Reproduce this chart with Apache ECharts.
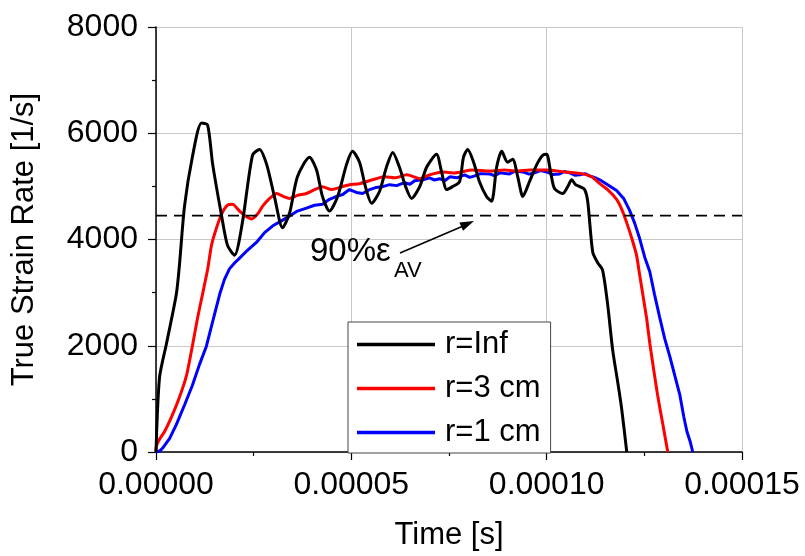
<!DOCTYPE html>
<html>
<head>
<meta charset="utf-8">
<script src="https://cdn.jsdelivr.net/npm/echarts@6/dist/echarts.min.js"></script>
<style>
html,body{margin:0;padding:0;background:#fff;}
#chart{width:805px;height:556px;}
</style>
</head>
<body>
<div id="chart"></div>
<script>
// time values in units of 1e-5 s
const timeInf = [0,0.09,0.27,0.52,0.60,0.73,0.93,1.165,1.32,1.45,1.68,1.83,2.01,2.21,2.47,2.65,2.83,3.03,3.24,3.42,3.62,3.93,4.11,4.26,4.44,4.65,4.88,5.03,5.21,5.36,5.52,5.72,5.90,6.06,6.23,6.39,6.54,6.75,6.93,7.18,7.31,7.44,7.59,7.77,7.87,7.98,8.13,8.28,8.46,8.59,8.72,8.85,9.00,9.13,9.26,9.39,9.56,9.74,9.90,10.0,10.1,10.2,10.41,10.54,10.64,10.74,10.85,10.97,11.05,11.18,11.31,11.43,11.56,11.69,11.82,11.92,12.05];
const rateInf = [0,1400,2046,2968,3520,4627,5548,6193,6157,5419,4442,3889,3705,4313,5585,5696,5419,4811,4221,4498,5180,5548,5309,4811,4535,4811,5419,5659,5456,4995,4682,4903,5364,5640,5364,4995,4774,4995,5364,5604,5272,4940,4995,5088,5548,5696,5456,5088,4811,4719,5364,5659,5456,5511,5180,4811,5088,5401,5585,5604,5272,4958,4866,4995,5124,5032,4995,4940,4719,3760,3558,3429,2783,1917,1309,811,0];

const time3 = [0,0.01,0.09,0.22,0.42,0.60,0.78,0.93,1.06,1.19,1.32,1.42,1.55,1.68,1.83,1.96,2.14,2.29,2.45,2.60,2.73,2.91,3.09,3.26,3.42,3.62,3.85,4.06,4.26,4.49,4.77,4.95,5.21,5.54,5.85,6.11,6.42,6.60,6.75,7.00,7.34,7.64,8.10,8.54,8.92,9.23,9.56,10.0,10.46,10.92,11.15,11.36,11.56,11.79,11.92,12.05,12.18,12.30,12.38,12.46,12.56,12.64,12.74,12.84,12.97,13.10];
const rate3 = [0,110,240,387,700,1032,1438,1991,2507,2968,3429,3889,4221,4479,4645,4663,4535,4442,4387,4479,4627,4774,4866,4811,4774,4830,4866,4940,4995,4940,4995,5032,5051,5124,5180,5161,5217,5180,5143,5217,5272,5254,5309,5290,5309,5290,5309,5309,5272,5235,5180,5051,4940,4756,4571,4313,4018,3705,3336,2968,2507,2046,1548,1069,535,0];

const time1 = [0,0.09,0.17,0.35,0.52,0.73,0.93,1.11,1.29,1.45,1.63,1.75,1.88,2.01,2.14,2.34,2.57,2.78,2.99,3.21,3.42,3.62,3.85,4.06,4.26,4.44,4.62,4.78,4.95,5.13,5.29,5.47,5.62,5.80,5.98,6.16,6.36,6.50,6.62,6.83,7.00,7.13,7.26,7.40,7.52,7.70,7.90,8.03,8.16,8.30,8.54,8.67,8.80,9.05,9.20,9.39,9.55,9.69,9.85,10.0,10.15,10.33,10.45,10.59,10.72,10.85,10.98,11.10,11.22,11.36,11.56,11.79,11.97,12.12,12.25,12.38,12.51,12.64,12.76,12.89,13.02,13.15,13.28,13.41,13.51,13.59,13.67,13.74];
const rate1 = [0,18,74,258,516,885,1253,1640,1991,2452,2968,3244,3447,3558,3650,3797,3945,4129,4258,4350,4442,4535,4590,4645,4663,4756,4811,4848,4940,4885,4866,4940,4977,4995,5032,5014,5069,5040,5106,5124,5161,5120,5143,5110,5180,5161,5217,5170,5198,5240,5235,5200,5254,5235,5290,5272,5230,5254,5300,5272,5225,5235,5280,5254,5210,5217,5240,5198,5170,5124,5032,4922,4774,4553,4313,4018,3668,3392,2968,2544,2138,1806,1438,1069,664,387,203,0];

const refLevel = 4450;
const xTicks = [0, 0.00005, 0.0001, 0.00015];
const seriesNames = ['r=Inf', 'r=3 cm', 'r=1 cm'];

const toPairs = (t, v) => t.map((x, i) => [x * 1e-5, v[i]]);

const chart = echarts.init(document.getElementById('chart'), null, {renderer: 'canvas'});
const font = 'Liberation Sans, Arial, sans-serif';

const option = {
  animation: false,
  backgroundColor: '#fff',
  grid: {left: 156, right: 63, top: 27, bottom: 95, containLabel: false},
  xAxis: {
    type: 'value', min: xTicks[0], max: xTicks[3], interval: 0.00005,
    name: 'Time [s]', nameLocation: 'middle', nameGap: 68,
    nameTextStyle: {fontFamily: font, fontSize: 31, color: '#000'},
    axisLine: {lineStyle: {color: '#000', width: 1.5}},
    axisTick: {length: 8, lineStyle: {color: '#000', width: 1.2}},
    minorTick: {show: true, splitNumber: 2, length: 4, lineStyle: {color: '#000', width: 1.2}},
    axisLabel: {fontFamily: font, fontSize: 32, color: '#000', margin: 17,
      formatter: v => v.toFixed(5)},
    splitLine: {show: true, lineStyle: {color: '#c8c8c8', width: 1}}
  },
  yAxis: {
    type: 'value', min: 0, max: 8000, interval: 2000,
    name: 'True Strain Rate [1/s]', nameLocation: 'middle', nameGap: 116,
    nameTextStyle: {fontFamily: font, fontSize: 31, color: '#000'},
    axisLine: {show: true, lineStyle: {color: '#000', width: 1.5}},
    axisTick: {show: true, length: 8, lineStyle: {color: '#000', width: 1.2}},
    minorTick: {show: true, splitNumber: 2, length: 4, lineStyle: {color: '#000', width: 1.2}},
    axisLabel: {fontFamily: font, fontSize: 32, color: '#000', margin: 18,
      formatter: v => String(v)},
    splitLine: {show: true, lineStyle: {color: '#c8c8c8', width: 1}}
  },
  legend: {
    orient: 'vertical', left: 348, top: 322,
    data: seriesNames,
    backgroundColor: '#fff', borderColor: '#444', borderWidth: 1, borderRadius: 0,
    padding: [7, 10, 5, 9], itemGap: 13, itemWidth: 78, itemHeight: 3.5, icon: 'rect',
    textStyle: {fontFamily: font, fontSize: 31, color: '#000', padding: [0, 0, 0, 5]}
  },
  series: [
    {name: seriesNames[0], type: 'line', data: toPairs(timeInf, rateInf), symbol: 'none', smooth: 0.25,
     lineStyle: {color: '#000', width: 3}, itemStyle: {color: '#000'}, z: 4},
    {name: seriesNames[1], type: 'line', data: toPairs(time3, rate3), symbol: 'none', smooth: 0.2,
     lineStyle: {color: '#ff0000', width: 3}, itemStyle: {color: '#ff0000'}, z: 3},
    {name: seriesNames[2], type: 'line', data: toPairs(time1, rate1), symbol: 'none',
     lineStyle: {color: '#0000ff', width: 3}, itemStyle: {color: '#0000ff'}, z: 2},
    {name: 'ref', type: 'line', data: [[xTicks[0], refLevel], [xTicks[3], refLevel]], symbol: 'none',
     lineStyle: {color: '#000', width: 1.8, type: [11, 7]}, z: 5, silent: true}
  ],
  graphic: [
    {type: 'text', left: 310, top: 235, style: {text: '90%ε', fontFamily: font, fontSize: 33, fill: '#000'}, z: 10},
    {type: 'text', left: 394, top: 260, style: {text: 'AV', fontFamily: font, fontSize: 22, fill: '#000'}, z: 10},
    {type: 'line', shape: {x1: 400, y1: 253, x2: 462, y2: 226.5}, style: {stroke: '#000', lineWidth: 1.5}, z: 10},
    {type: 'polygon', shape: {points: [[474, 221], [463, 230.7], [459.4, 222.4]]}, style: {fill: '#000'}, z: 10}
  ]
};
chart.setOption(option);
</script>
</body>
</html>
